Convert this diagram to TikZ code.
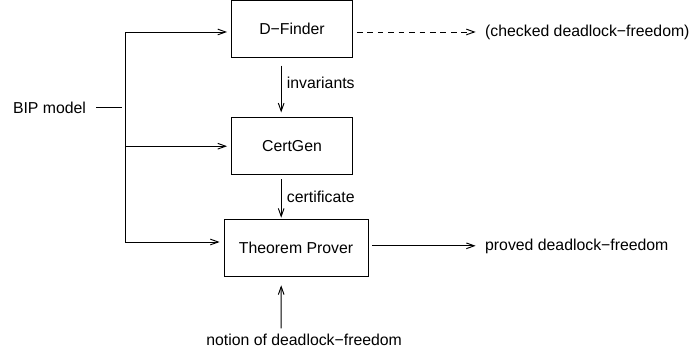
\documentclass[tikz,border=0pt]{standalone}
\usepackage{fontspec}
\setmainfont{Liberation Sans}
\usetikzlibrary{positioning,arrows.meta}
\tikzset{
    tool/.style = {
        draw,
        shape=rectangle,
        minimum height=1.27cm,
        minimum width=2.69cm,
        line width=0.6pt
    },
    flow/.style = {
        draw,
        line width=0.6pt,
        shorten >=2.5pt
    },
    >={Straight Barb[length=5pt,width=3.6pt]},
}

\begin{document}
\begin{tikzpicture}
            \useasboundingbox (-6.49,-2.34) rectangle (8.98,5.52);

            \node[tool] (dfinder) at (0,4.88) {D−Finder};
            \node[tool] (certgen) at (0,2.27) {CertGen};
            \node[tool, minimum width=3.2cm] (prover) at (0.09,0) {Theorem Prover};

            \node (bip) at (-5.39,3.12) {BIP model};
            \node[anchor=west] (checked) at (4.17,4.80) {(checked deadlock−freedom)};
            \node[anchor=west] (proved) at (4.17,0.05) {proved deadlock−freedom};
            \node (notion) at (0.27,-2.03) {notion of deadlock−freedom};

            \coordinate (split) at (-3.69,3.12);

            \path[flow, shorten <=3pt] (bip.east) -- (split);
            \path[flow, ->] (split) |- (dfinder.183);
            \path[flow, ->] (split) |- (certgen.west);
            \path[flow, ->] (split) |- (prover.175);

            \path[flow, ->, dash pattern=on 3.6pt off 3pt, shorten <=2.5pt] (dfinder.357) -- (dfinder.357 -| checked.west);
            \path[flow, ->, shorten <=2.5pt] (prover.2) -- (prover.2 -| proved.west);

            \path[flow, ->, shorten <=5pt, shorten >=3pt] ([xshift=-0.24cm]dfinder.south) -- ([xshift=-0.24cm]certgen.north) node [pos=0.42, right] {invariants};
            \path[flow, ->, shorten <=2.5pt, shorten >=1pt] ([xshift=-0.24cm]certgen.south) -- ([xshift=-0.33cm]prover.north) node [midway, right] {certificate};
            \path[flow, ->, shorten >=5pt] ([xshift=-0.51cm]notion.north) -- ([xshift=-0.33cm]prover.south);

        \end{tikzpicture}
\end{document}
